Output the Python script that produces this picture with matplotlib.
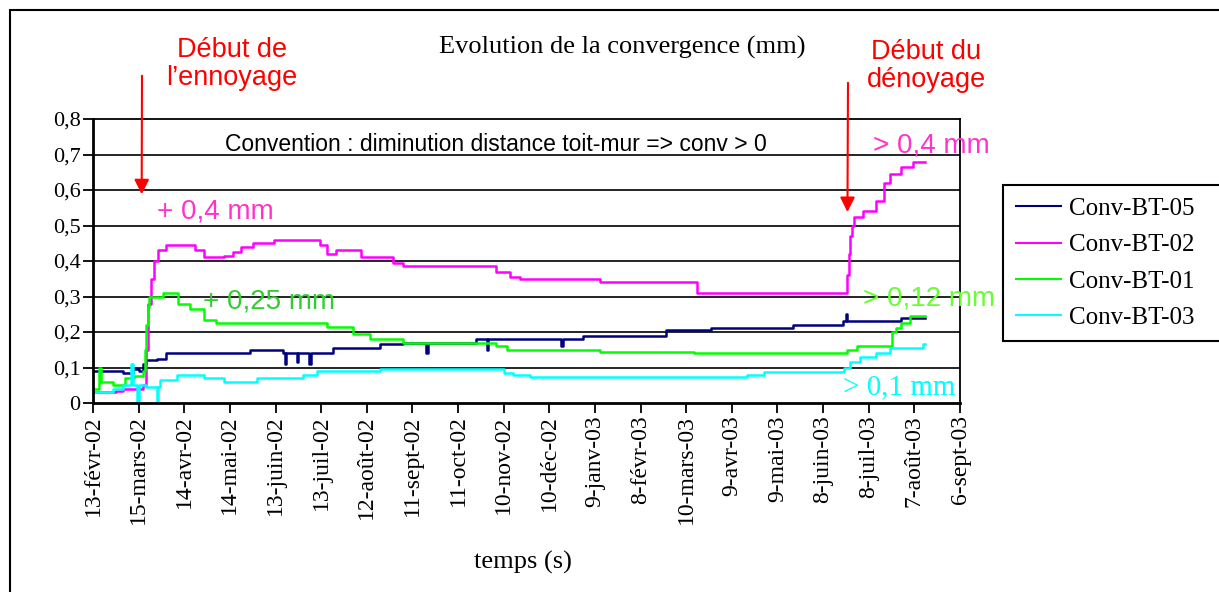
import numpy as np
import matplotlib
matplotlib.use('Agg')
import matplotlib.pyplot as plt
from matplotlib.patches import Rectangle

# jours comptés depuis le 13-févr-02, valeurs de convergence en mm
bt05_jours = [0, 20, 26, 30, 33, 35, 42, 48, 103, 125, 126, 127, 134, 135, 142, 143, 158, 189, 204, 219, 220,
              252, 259, 260, 308, 309, 322, 377, 406, 460, 493, 495, 496, 531, 547]
bt05_conv = [0.09, 0.085, 0.095, 0.09, 0.11, 0.12, 0.125, 0.14, 0.15, 0.14, 0.11, 0.14, 0.115, 0.14, 0.11, 0.14,
             0.155, 0.165, 0.17, 0.14, 0.17, 0.18, 0.15, 0.18, 0.16, 0.18, 0.19, 0.205, 0.21, 0.22, 0.23, 0.25,
             0.23, 0.24, 0.24]

bt02_jours = [0, 15, 20, 33, 35, 36, 38, 40, 43, 48, 67, 73, 86, 92, 97, 105, 119, 149, 154, 160, 176, 197, 204,
              265, 274, 281, 333, 397, 496, 497, 498, 499, 500, 506, 515, 520, 524, 531, 539, 547]
bt02_conv = [0.03, 0.035, 0.04, 0.05, 0.15, 0.28, 0.35, 0.40, 0.43, 0.445, 0.43, 0.41, 0.415, 0.425, 0.44, 0.45,
             0.46, 0.445, 0.42, 0.43, 0.41, 0.395, 0.385, 0.37, 0.355, 0.35, 0.34, 0.31, 0.36, 0.42, 0.47, 0.50,
             0.525, 0.54, 0.57, 0.62, 0.645, 0.665, 0.68, 0.68]

bt01_jours = [0, 4, 5, 13, 21, 27, 33, 34, 35, 36, 37, 46, 56, 64, 73, 81, 154, 171, 182, 204, 265, 272, 333,
              395, 496, 502, 525, 528, 531, 537, 547]
bt01_conv = [0.04, 0.1, 0.06, 0.05, 0.07, 0.075, 0.09, 0.15, 0.22, 0.27, 0.30, 0.31, 0.28, 0.265, 0.235, 0.225,
             0.215, 0.195, 0.18, 0.17, 0.16, 0.15, 0.145, 0.14, 0.15, 0.16, 0.2, 0.21, 0.225, 0.245, 0.245]

bt03_jours = [0, 13, 20, 25, 26, 29, 30, 35, 42, 43, 44, 55, 73, 86, 108, 138, 147, 189, 270, 276, 287, 430,
              441, 494, 498, 504, 515, 524, 546, 547]
bt03_conv = [0.03, 0.04, 0.05, 0.11, 0.05, 0.0, 0.05, 0.045, 0.0, 0.045, 0.065, 0.08, 0.07, 0.06, 0.07, 0.08,
             0.09, 0.095, 0.085, 0.08, 0.073, 0.08, 0.088, 0.1, 0.115, 0.13, 0.14, 0.155, 0.165, 0.165]

debut = np.datetime64('2002-02-13')
ticks_jours = list(range(0, 571, 30))
ticks_labels = ['13-févr-02', '15-mars-02', '14-avr-02', '14-mai-02', '13-juin-02', '13-juil-02',
                '12-août-02', '11-sept-02', '11-oct-02', '10-nov-02', '10-déc-02', '9-janv-03',
                '8-févr-03', '10-mars-03', '9-avr-03', '9-mai-03', '8-juin-03', '8-juil-03',
                '7-août-03', '6-sept-03']
y_ticks = [0, 0.1, 0.2, 0.3, 0.4, 0.5, 0.6, 0.7, 0.8]
y_labels = ['0', '0,1', '0,2', '0,3', '0,4', '0,5', '0,6', '0,7', '0,8']

series = [
    ('Conv-BT-05', bt05_jours, bt05_conv, '#000080'),
    ('Conv-BT-02', bt02_jours, bt02_conv, '#ff00ff'),
    ('Conv-BT-01', bt01_jours, bt01_conv, '#00ff00'),
    ('Conv-BT-03', bt03_jours, bt03_conv, '#00ffff'),
]

SERIF = ['Liberation Serif', 'DejaVu Serif']
SANS = ['Liberation Sans', 'DejaVu Sans']


def dt(j):
    return debut + np.array(j, dtype='timedelta64[D]')


W, H = 1219, 592
fig = plt.figure(figsize=(W / 100, H / 100), dpi=100)
ax = fig.add_axes([93 / W, 1 - 403 / H, (960 - 93) / W, (403 - 119) / H])

for nom, jours, conv, coul in series:
    # espaces en fin de nom : la légende déborde du cadre comme sur l'original
    ax.step(dt(jours), conv, where='post', color=coul, lw=1.8, label=nom + '   ')

ax.set_ylim(0, 0.8)
ax.set_xlim(dt(0), dt(570))
ax.set_yticks(y_ticks)
ax.set_yticklabels(y_labels, family=SERIF, fontsize=16)
ax.set_xticks(dt(ticks_jours))
ax.set_xticklabels(ticks_labels, rotation=90, family=SERIF, fontsize=17)
ax.tick_params(axis='both', direction='out', length=7, width=1.3, color='black', pad=2)
for y in y_ticks[1:-1]:
    ax.axhline(y, color='black', lw=1.2, zorder=1)
for s in ax.spines.values():
    s.set_color('black')
    s.set_linewidth(1.3)
ax.spines['left'].set_linewidth(2)
ax.spines['bottom'].set_linewidth(2)

# textes dans le graphique
ax.text(dt(87), 0.727, 'Convention : diminution distance toit-mur => conv > 0', family=SANS,
        fontsize=16.5, va='center', ha='left')
ax.text(dt(42), 0.54, '+ 0,4 mm', color='#ff33cc', family=SANS, fontsize=20, va='center')
ax.text(dt(72), 0.285, '+ 0,25 mm', color='#33cc33', family=SANS, fontsize=20, va='center')
ax.text(dt(513), 0.724, '> 0,4 mm', color='#ff33cc', family=SANS, fontsize=20, va='center', clip_on=False)
ax.text(dt(506), 0.293, '> 0,12 mm', color='#66ff33', family=SANS, fontsize=20, va='center', clip_on=False)
ax.text(dt(493), 0.045, '> 0,1 mm', color='#00ffff', family=SERIF, fontsize=21, va='center')

# flèches rouges
ax.annotate('', xy=(dt(32), 0.58), xytext=(142, H - 73), textcoords='figure pixels',
            arrowprops=dict(arrowstyle='-|>', color='red', lw=1.5, mutation_scale=22), annotation_clip=False)
ax.annotate('', xy=(dt(496), 0.53), xytext=(848, H - 80), textcoords='figure pixels',
            arrowprops=dict(arrowstyle='-|>', color='red', lw=1.5, mutation_scale=22), annotation_clip=False)

fig.text(232 / W, 1 - 64 / H, 'Début de\nl\u2019ennoyage', color='red', family=SANS, fontsize=19.5,
         ha='center', va='center', linespacing=1.1)
fig.text(926 / W, 1 - 66 / H, 'Début du\ndénoyage', color='red', family=SANS, fontsize=19.5,
         ha='center', va='center', linespacing=1.1)
fig.text(622 / W, 1 - 47 / H, 'Evolution de la convergence (mm)', family=SERIF, fontsize=19,
         ha='center', va='center')
fig.text(523 / W, 1 - 562 / H, 'temps (s)', family=SERIF, fontsize=19, ha='center', va='center')

leg = fig.legend(loc='upper left', bbox_to_anchor=(1003 / W, 1 - 185 / H), prop={'family': SERIF, 'size': 18},
                 frameon=True, fancybox=False, edgecolor='black', framealpha=1, handlelength=1.8,
                 labelspacing=0.55, borderpad=0.5, handletextpad=0.35, borderaxespad=0)
leg.get_frame().set_linewidth(1.5)
for l in leg.get_lines():
    l.set_linewidth(1.5)

# cadre du graphique
fig.patches.append(Rectangle((10 / W, -0.1), 1.2, 1 - 10 / H + 0.1, transform=fig.transFigure,
                             fill=False, edgecolor='black', lw=1.5))

fig.savefig('out.png', dpi=100)
